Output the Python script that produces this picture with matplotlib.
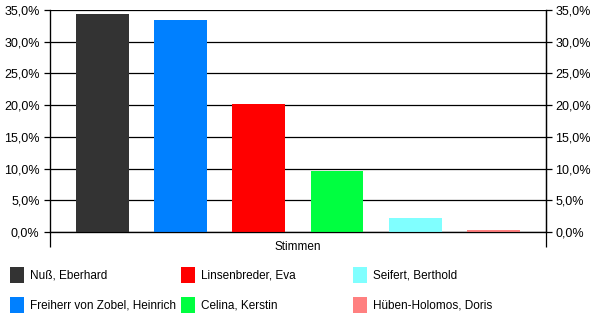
import matplotlib
matplotlib.use('Agg')
import matplotlib.pyplot as plt
from matplotlib.patches import Rectangle
from matplotlib.ticker import FuncFormatter, MultipleLocator

plt.rcParams['font.family'] = ['Liberation Sans', 'DejaVu Sans']

# data
names = ['Nuß, Eberhard', 'Freiherr von Zobel, Heinrich', 'Linsenbreder, Eva',
         'Celina, Kerstin', 'Seifert, Berthold', 'Hüben-Holomos, Doris']
shares = [0.343, 0.334, 0.202, 0.096, 0.0225, 0.0035]
colors = ['#333333', '#0080ff', '#ff0000', '#00ff40', '#80ffff', '#ff8080']
category = 'Stimmen'

W, H = 600, 326
fig = plt.figure(figsize=(W / 100, H / 100), dpi=100)
ax = fig.add_axes([50 / W, 1 - 232 / H, 495.7 / W, 222 / H])

xpos = list(range(len(shares)))
ax.bar(xpos, shares, width=0.675, color=colors, zorder=3)

xmin, xmax = -0.67, len(shares) - 1 + 0.67
ax.set_xlim(xmin, xmax)
ax.set_ylim(0, 0.35)

pct = FuncFormatter(lambda v, p: ('%.1f%%' % (v * 100)).replace('.', ','))
ax.yaxis.set_major_locator(MultipleLocator(0.05))
ax.yaxis.set_major_formatter(pct)
ax.grid(axis='y', color='black', linewidth=0.9, zorder=1)
ax.tick_params(axis='y', length=4, width=0.9, labelsize=9, pad=3.5, colors='black')

# category tick marks at both ends of the x axis
ax.set_xticks([xmin, xmax])
ax.set_xticklabels(['', ''])
ax.tick_params(axis='x', length=11, width=0.9, direction='out')

ax.spines['top'].set_visible(False)
for s in ['left', 'right', 'bottom']:
    ax.spines[s].set_linewidth(0.9)

ax2 = ax.twinx()
ax2.set_ylim(ax.get_ylim())
ax2.yaxis.set_major_locator(MultipleLocator(0.05))
ax2.yaxis.set_major_formatter(pct)
ax2.tick_params(axis='y', length=4, width=0.9, labelsize=9, pad=3)
ax2.spines['top'].set_visible(False)
ax2.spines['right'].set_linewidth(0.9)

fig.text(297.5 / W, 1 - 247 / H, category, ha='center', va='center', fontsize=8.5)

# legend grid
col_x = [10, 181, 353]
row_y = [275, 305]
for i, (nm, c) in enumerate(zip(names, colors)):
    cx = col_x[i // 2]
    cy = row_y[i % 2]
    fig.add_artist(Rectangle((cx / W, 1 - (cy + 8) / H), 13.5 / W, 16 / H,
                             transform=fig.transFigure, facecolor=c, edgecolor='none'))
    fig.text((cx + 20) / W, 1 - cy / H, nm, ha='left', va='center', fontsize=8.5)

fig.savefig('out.png', dpi=100)
